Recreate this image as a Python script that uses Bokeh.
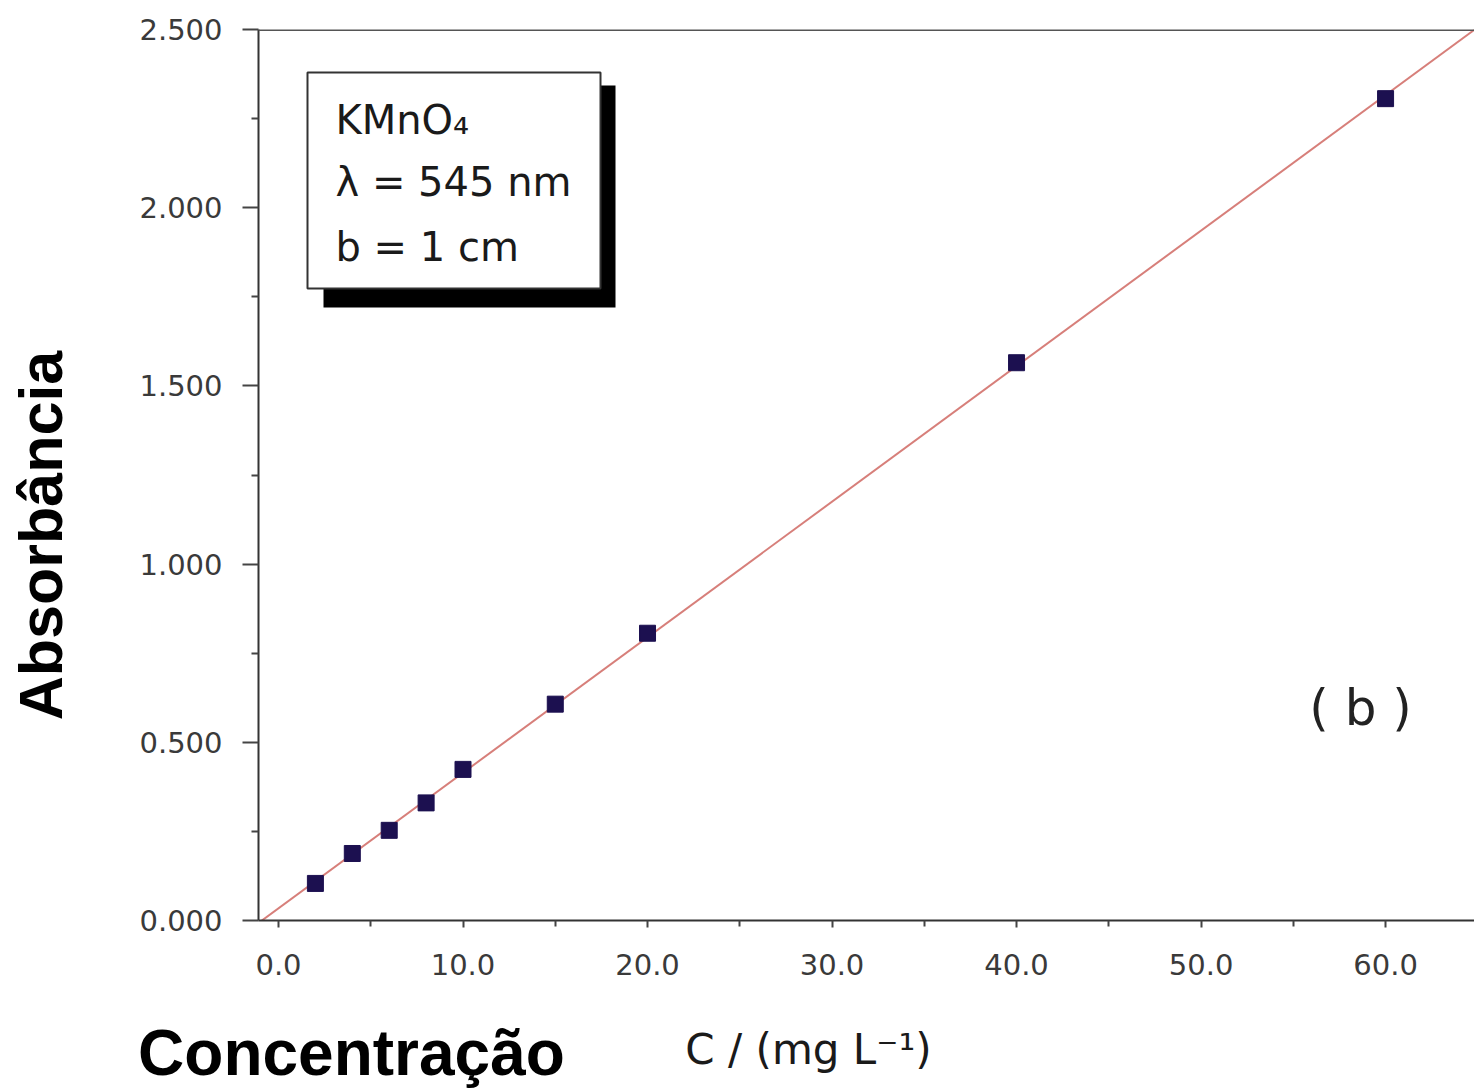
import numpy as np
from bokeh.plotting import figure
from bokeh.models import FixedTicker, Label, BoxAnnotation, Span, Range1d, LinearAxis
from bokeh.embed import file_html
from bokeh.resources import INLINE

# ---- data ----
conc = [2, 4, 6, 8, 10, 15, 20, 40, 60]
absorb = [0.104, 0.188, 0.253, 0.330, 0.424, 0.607, 0.806, 1.565, 2.306]
x_ticks = [0, 10, 20, 30, 40, 50, 60]
x_tick_labels = ["0.0", "10.0", "20.0", "30.0", "40.0", "50.0", "60.0"]
x_minor = [5, 15, 25, 35, 45, 55, 65]
y_ticks = [0.0, 0.5, 1.0, 1.5, 2.0, 2.5]
y_tick_labels = ["0.000", "0.500", "1.000", "1.500", "2.000", "2.500"]
y_minor = [0.25, 0.75, 1.25, 1.75, 2.25]
note_lines = ["KMnO\u2084", "\u03bb = 545 nm", "b = 1 cm"]
x_title = "C / (mg L\u207b\u00b9)"
big_x_title = "Concentração"
big_y_title = "Absorbância"
panel_tag = "( b )"

# ---- geometry (pixels of the page) ----
FIG_W, FIG_H = 1474, 1091
FR_L, FR_R, FR_T, FR_B = 258, 1474, 29, 920
X_START, X_END = -1.084, 64.82
Y_START, Y_END = 0.0, 2.5


def px_x(s):
    return X_START + (s - FR_L) / (FR_R - FR_L) * (X_END - X_START)


def px_y(s):
    return Y_START + (FR_B - s) / (FR_B - FR_T) * (Y_END - Y_START)


p = figure(width=FIG_W, height=FIG_H, output_backend="svg", toolbar_location=None,
           x_range=Range1d(X_START, X_END), y_range=Range1d(Y_START, Y_END),
           min_border_left=FR_L, min_border_top=FR_T, min_border_bottom=FIG_H - FR_B,
           min_border_right=FIG_W - FR_R)
p.outline_line_color = None
p.xgrid.visible = False
p.ygrid.visible = False
p.background_fill_color = "white"
p.border_fill_color = "white"

TICK_FONT = "DejaVu Sans"
for ax in (p.xaxis[0], p.yaxis[0]):
    ax.axis_line_color = "#333333"
    ax.axis_line_width = 2
    ax.major_tick_line_color = "#444444"
    ax.major_tick_line_width = 2
    ax.minor_tick_line_color = "#444444"
    ax.minor_tick_line_width = 2
    ax.major_tick_in = 0
    ax.minor_tick_in = 0
    ax.major_label_text_font = TICK_FONT
    ax.major_label_text_font_size = "29px"
    ax.major_label_text_color = "#3a3a3a"

p.xaxis.ticker = FixedTicker(ticks=x_ticks, minor_ticks=x_minor)
p.xaxis.major_label_overrides = dict(zip(x_ticks, x_tick_labels))
p.xaxis.major_tick_out = 7
p.xaxis.minor_tick_out = 6
p.xaxis.major_label_standoff = 26

p.yaxis.ticker = FixedTicker(ticks=y_ticks, minor_ticks=y_minor)
p.yaxis.major_label_overrides = dict(zip(y_ticks, y_tick_labels))
p.yaxis.major_tick_out = 16
p.yaxis.minor_tick_out = 7
p.yaxis.major_label_standoff = 20


def text_axis(pos, text, font, size, style, color, standoff, vertical=False):
    ax = LinearAxis(ticker=FixedTicker(ticks=[pos], minor_ticks=[]),
                    major_label_overrides={pos: text})
    ax.axis_line_color = None
    ax.major_tick_line_color = None
    ax.minor_tick_line_color = None
    ax.major_tick_out = 0
    ax.major_tick_in = 0
    ax.minor_tick_out = 0
    ax.minor_tick_in = 0
    ax.major_label_standoff = standoff
    ax.major_label_text_font = font
    ax.major_label_text_font_size = size
    ax.major_label_text_font_style = style
    ax.major_label_text_color = color
    if vertical:
        ax.major_label_orientation = "vertical"
    return ax


# big rotated caption on the left (outside the y tick labels)
p.add_layout(text_axis(px_y(535), big_y_title, "Liberation Sans", "61px", "bold",
                       "black", 62, vertical=True), "left")
# captions under the x axis
p.add_layout(text_axis(px_x(351), big_x_title, "Liberation Sans", "64px", "bold",
                       "black", 39), "below")
p.add_layout(text_axis(px_x(808), x_title, "DejaVu Sans", "42px", "normal",
                       "#1a1a1a", -67), "below")

# top frame line
p.add_layout(Span(location=Y_END, dimension="width", line_color="#555555", line_width=3))

# linear fit of the data
slope, intercept = np.polyfit(conc, absorb, 1)
fit_x = [X_START, X_END]
fit_y = [intercept + slope * v for v in fit_x]
p.line(fit_x, fit_y, line_color="#d77f7a", line_width=2)

p.scatter(conc, absorb, marker="square", size=16, fill_color="#1c1050",
          line_color="#1c1050")

# note box with shadow
p.add_layout(BoxAnnotation(left=px_x(323), right=px_x(615), top=px_y(85), bottom=px_y(307),
                           fill_color="black", fill_alpha=1.0, line_color=None))
p.add_layout(BoxAnnotation(left=px_x(307), right=px_x(600), top=px_y(72), bottom=px_y(288),
                           fill_color="white", fill_alpha=1.0, line_color="#333333",
                           line_alpha=1.0, line_width=2))
for txt, mid in zip(note_lines, [119, 181, 246]):
    p.add_layout(Label(x=px_x(335), y=px_y(mid), text=txt, text_font="DejaVu Sans",
                       text_font_size="40px", text_color="#1a1a1a",
                       text_align="left", text_baseline="middle"))

# panel tag
p.add_layout(Label(x=px_x(1360), y=px_y(707), text=panel_tag, text_font="DejaVu Sans",
                   text_font_size="50px", text_color="#222222",
                   text_align="center", text_baseline="middle"))

open("out.html", "w").write(file_html(p, INLINE))
